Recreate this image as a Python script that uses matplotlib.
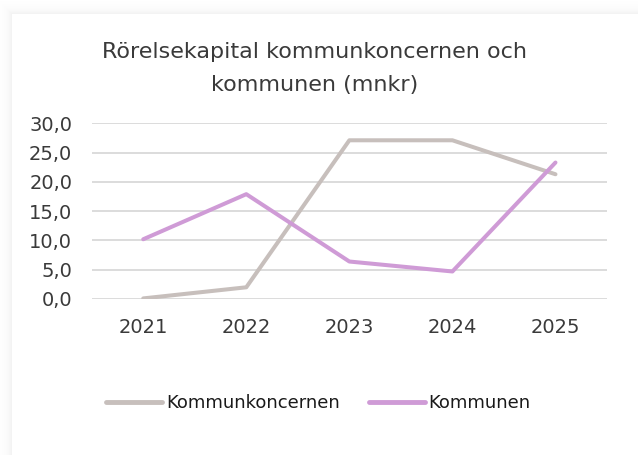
import numpy as np
import matplotlib
matplotlib.use("Agg")
import matplotlib.pyplot as plt
from matplotlib.ticker import FuncFormatter

years = ["2021", "2022", "2023", "2024", "2025"]
kommunkoncernen = [0.1, 2.0, 27.1, 27.1, 21.3]
kommunen = [10.2, 17.9, 6.4, 4.7, 23.3]
y_ticks = [0, 5, 10, 15, 20, 25, 30]
title_lines = ["Rörelsekapital kommunkoncernen och", "kommunen (mnkr)"]

FONT = "DejaVu Sans"
GRAY = "#c7bfbc"
PURPLE = "#cf9bd6"
TEXT = "#3a3a3a"

W, H = 638, 455
fig = plt.figure(figsize=(W / 100, H / 100), dpi=100)
fig.patch.set_facecolor("white")

# soft shadow around top/left of chart box
bg = fig.add_axes([0, 0, 1, 1], zorder=-10)
img = np.ones((H, W))
yy, xx = np.mgrid[0:H, 0:W]
box_x, box_y = 12, 14
dx = np.clip(box_x - xx, 0, None)
dy = np.clip(box_y - yy, 0, None)
d = np.maximum(dx, dy)
outside = (xx < box_x) | (yy < box_y)
shade = 1 - 0.06 * np.exp(-d / 5.0)
img[outside] = shade[outside]
bg.imshow(img, cmap="gray", vmin=0, vmax=1, aspect="auto", interpolation="bilinear")
bg.axis("off")

x0, x1, ytop, ybot = 91.7, 607.0, 123.3, 299.0
ax = fig.add_axes([x0 / W, (H - ybot) / H, (x1 - x0) / W, (ybot - ytop) / H])
x = np.arange(len(years))
ax.plot(x, kommunkoncernen, color=GRAY, lw=2.9, solid_capstyle="round", label="Kommunkoncernen", zorder=3)
ax.plot(x, kommunen, color=PURPLE, lw=2.9, solid_capstyle="round", label="Kommunen", zorder=3)

ax.set_xlim(-0.5, len(years) - 0.5)
ax.set_ylim(0, 30)
ax.set_yticks(y_ticks)
ax.yaxis.set_major_formatter(FuncFormatter(lambda v, p: f"{v:.1f}".replace(".", ",")))
ax.set_xticks(x)
ax.set_xticklabels(years)
ax.grid(axis="y", color="#d9d9d9", lw=1.3)
ax.set_axisbelow(True)
for s in ax.spines.values():
    s.set_visible(False)
ax.tick_params(length=0, labelsize=14, labelcolor=TEXT)
ax.tick_params(axis="y", pad=14)
ax.tick_params(axis="x", pad=14)
for lab in ax.get_xticklabels() + ax.get_yticklabels():
    lab.set_fontfamily(FONT)

fig.text(315 / W, 1 - 52 / H, title_lines[0], ha="center", va="center", fontsize=16,
         family=FONT, color=TEXT)
fig.text(315 / W, 1 - 85 / H, title_lines[1], ha="center", va="center", fontsize=16,
         family=FONT, color=TEXT)

leg = fig.legend(loc="center", bbox_to_anchor=(318.5 / W, 1 - 403 / H), ncol=2, frameon=False,
                 prop={"family": FONT, "size": 13}, handlelength=3.1, handletextpad=0.22,
                 columnspacing=1.6)
for t in leg.get_texts():
    t.set_color("#1a1a1a")
for l in leg.get_lines():
    l.set_linewidth(3.5)

fig.savefig("out.png", dpi=100)
